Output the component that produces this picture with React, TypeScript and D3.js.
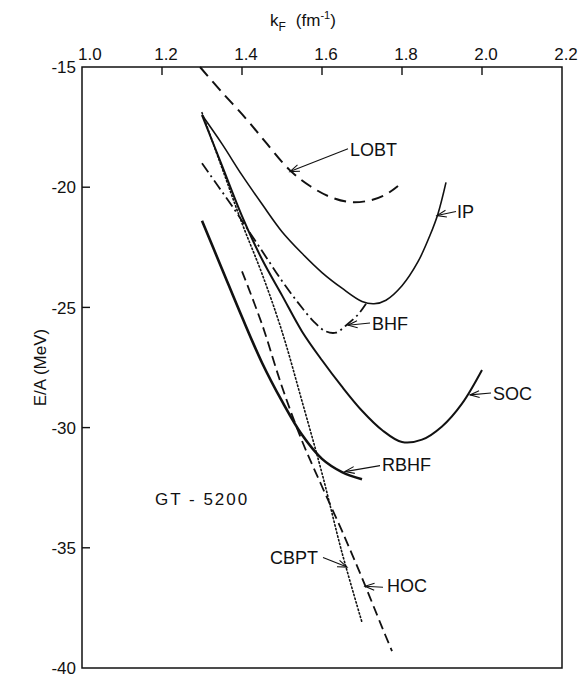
import React from "react";
import * as d3 from "d3";

// ---- data (k_F in fm^-1, E/A in MeV) ----
const xTicks = [1.0, 1.2, 1.4, 1.6, 1.8, 2.0, 2.2];
const yTicks = [-15, -20, -25, -30, -35, -40];

const LOBT: [number, number][] = [
  [1.295, -15.0], [1.35, -16.05], [1.41, -17.15], [1.46, -18.15], [1.52, -19.3],
  [1.57, -19.95], [1.62, -20.4], [1.67, -20.62], [1.72, -20.55], [1.76, -20.3], [1.79, -19.95],
];
const IP: [number, number][] = [
  [1.3, -17.0], [1.35, -18.2], [1.4, -19.5], [1.45, -20.7], [1.5, -21.85], [1.55, -22.75],
  [1.6, -23.55], [1.65, -24.2], [1.7, -24.75], [1.73, -24.85], [1.76, -24.7], [1.8, -24.1],
  [1.84, -23.1], [1.87, -22.0], [1.89, -21.1], [1.91, -19.8],
];
const BHF: [number, number][] = [
  [1.3, -19.0], [1.34, -19.95], [1.38, -20.9], [1.42, -21.9], [1.46, -22.9], [1.5, -23.9],
  [1.54, -24.8], [1.58, -25.6], [1.61, -26.0], [1.635, -26.05], [1.66, -25.75], [1.69, -25.3], [1.71, -24.85],
];
const SOC: [number, number][] = [
  [1.3, -17.0], [1.35, -19.1], [1.4, -21.2], [1.45, -23.0], [1.5, -24.5], [1.55, -26.0],
  [1.6, -27.2], [1.65, -28.3], [1.7, -29.3], [1.75, -30.1], [1.8, -30.6], [1.85, -30.5],
  [1.9, -29.95], [1.95, -29.0], [2.0, -27.6],
];
const RBHF: [number, number][] = [
  [1.3, -21.4], [1.35, -23.4], [1.4, -25.4], [1.45, -27.3], [1.5, -28.9], [1.55, -30.3],
  [1.6, -31.3], [1.65, -31.85], [1.7, -32.15],
];
const CBPT: [number, number][] = [
  [1.3, -16.9], [1.35, -19.2], [1.4, -21.5], [1.45, -23.6], [1.5, -26.0], [1.55, -28.9],
  [1.6, -31.9], [1.65, -35.2], [1.7, -38.1],
];
const HOC: [number, number][] = [
  [1.4, -23.5], [1.45, -25.7], [1.5, -28.3], [1.55, -30.55], [1.6, -32.45], [1.65, -34.3],
  [1.7, -36.25], [1.75, -38.3], [1.775, -39.3],
];

// label text, label anchor (data), arrow tail (data), arrow tip (data)
const labels = [
  { text: "LOBT", at: [1.67, -18.69], tail: [1.665, -18.4], tip: [1.52, -19.35] },
  { text: "IP", at: [1.9375, -21.3], tail: [1.935, -21.01], tip: [1.8875, -21.18] },
  { text: "BHF", at: [1.725, -25.95], tail: [1.72, -25.65], tip: [1.665, -25.74] },
  { text: "SOC", at: [2.0275, -28.85], tail: [2.0225, -28.56], tip: [1.97, -28.64] },
  { text: "RBHF", at: [1.75, -31.79], tail: [1.745, -31.58], tip: [1.6575, -31.83] },
  { text: "CBPT", at: [1.47, -35.69], tail: [1.6025, -35.4], tip: [1.6625, -35.8] },
  { text: "HOC", at: [1.7625, -36.85], tail: [1.7525, -36.64], tip: [1.7075, -36.6] },
];

const W = 584;
const H = 679;
const L = 82, R = 562, T = 67, B = 668;

export default function App() {
  const x = d3.scaleLinear().domain([1.0, 2.2]).range([L, R]);
  const y = d3.scaleLinear().domain([-15, -40]).range([T, B]);
  const line = d3
    .line<[number, number]>()
    .x((d) => x(d[0]))
    .y((d) => y(d[1]))
    .curve(d3.curveCatmullRom.alpha(0.5));

  const font = "'Liberation Sans', Arial, sans-serif";
  const ink = "#111";

  const series = [
    { d: LOBT, w: 2, dash: "12,7" },
    { d: IP, w: 1.6, dash: "" },
    { d: BHF, w: 1.8, dash: "11,4,2,4" },
    { d: SOC, w: 2, dash: "" },
    { d: RBHF, w: 2.6, dash: "" },
    { d: CBPT, w: 1.6, dash: "1.4,2.4" },
    { d: HOC, w: 1.8, dash: "10,5" },
  ];

  const arrowHead = (tx: number, ty: number, sx: number, sy: number) => {
    const ang = Math.atan2(sy - ty, sx - tx);
    const len = 10;
    const spread = 0.35;
    const p1 = [tx + len * Math.cos(ang + spread), ty + len * Math.sin(ang + spread)];
    const p2 = [tx + len * Math.cos(ang - spread), ty + len * Math.sin(ang - spread)];
    return `M${p1[0]},${p1[1]}L${tx},${ty}L${p2[0]},${p2[1]}`;
  };

  return (
    <svg
      width={W}
      height={H}
      style={{ position: "absolute", left: 0, top: 0, background: "#fff" }}
      fontFamily={font}
    >
      <rect x={0} y={0} width={W} height={H} fill="#fff" />
      {/* frame */}
      <rect x={L} y={T} width={R - L} height={B - T} fill="none" stroke={ink} strokeWidth={1.5} />

      {/* top ticks & labels */}
      {xTicks.map((t, i) => (
        <g key={"x" + t}>
          {t > 1.0 && t < 2.2 && (
            <line x1={x(t)} x2={x(t)} y1={T} y2={T + 8} stroke={ink} strokeWidth={1.4} />
          )}
          <text
            x={i === 0 ? x(t) - 4 : x(t) + 4}
            y={60}
            fontSize={17}
            textAnchor={i === 0 ? "start" : "middle"}
            fill={ink}
          >
            {t.toFixed(1)}
          </text>
        </g>
      ))}
      {/* left ticks & labels */}
      {yTicks.map((t) => (
        <g key={"y" + t}>
          {t > -40 && t < -15 && (
            <line x1={L} x2={L + 8} y1={y(t)} y2={y(t)} stroke={ink} strokeWidth={1.4} />
          )}
          <text x={76} y={y(t)} dy="0.36em" fontSize={17} textAnchor="end" fill={ink}>
            {String(t)}
          </text>
        </g>
      ))}

      {/* axis titles */}
      <text x={270} y={26} fontSize={17} fill={ink}>
        k
        <tspan fontSize={12} dy={5}>F</tspan>
        <tspan dy={-5} dx={10}>(fm</tspan>
        <tspan fontSize={11} dy={-7}>-1</tspan>
        <tspan dy={7}>)</tspan>
      </text>
      <text
        transform={`translate(46,${(T + B) / 2}) rotate(-90)`}
        fontSize={17}
        textAnchor="middle"
        fill={ink}
      >
        E/A  (MeV)
      </text>

      {/* curves */}
      {series.map((s, i) => (
        <path
          key={i}
          d={line(s.d) || ""}
          fill="none"
          stroke={ink}
          strokeWidth={s.w}
          strokeDasharray={s.dash || undefined}
          strokeLinecap={s.dash.startsWith("1.4") ? "round" : "butt"}
        />
      ))}

      {/* labels with arrows */}
      {labels.map((lb) => {
        const tx = x(lb.tip[0]), ty = y(lb.tip[1]);
        const sx = x(lb.tail[0]), sy = y(lb.tail[1]);
        return (
          <g key={lb.text}>
            <line x1={sx} y1={sy} x2={tx} y2={ty} stroke={ink} strokeWidth={1.1} />
            <path d={arrowHead(tx, ty, sx, sy)} fill="none" stroke={ink} strokeWidth={1.1} />
            <text x={x(lb.at[0])} y={y(lb.at[1])} fontSize={18} fill={ink}>
              {lb.text}
            </text>
          </g>
        );
      })}

      <text x={x(1.1825)} y={y(-33.2)} fontSize={17} letterSpacing={2} fill={ink} style={{ whiteSpace: "pre" }}>
        GT - 5200
      </text>
    </svg>
  );
}
